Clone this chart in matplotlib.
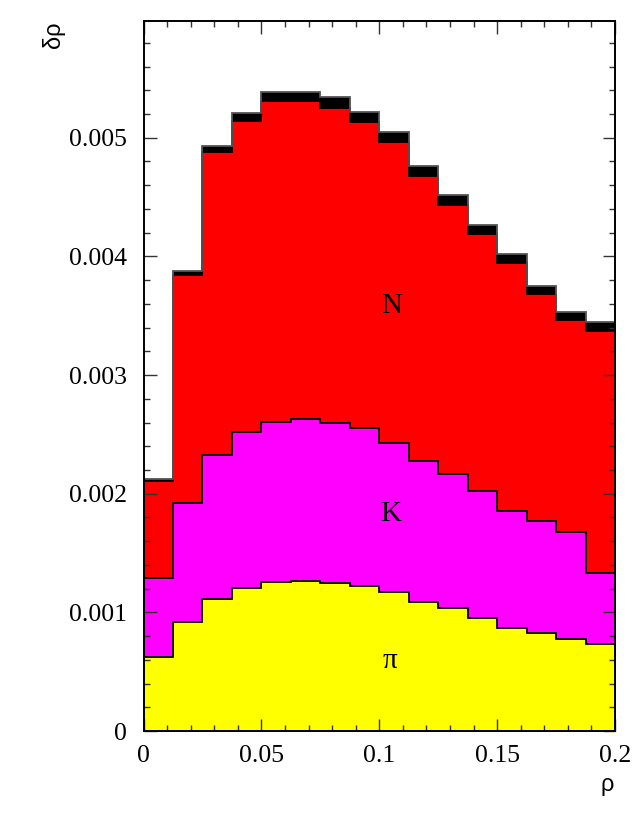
import numpy as np
import matplotlib
matplotlib.use("Agg")
import matplotlib.pyplot as plt

# bin edges (rho)
edges = np.linspace(0.0, 0.2, 17)

# contributions per bin (units of 1e-3)
pi_vals = [0.626, 0.916, 1.110, 1.205, 1.253, 1.261, 1.250, 1.222,
           1.171, 1.090, 1.037, 0.955, 0.868, 0.829, 0.778, 0.730]
K_vals = [0.661, 1.008, 1.213, 1.312, 1.348, 1.371, 1.348, 1.329,
          1.256, 1.188, 1.131, 1.065, 0.983, 0.943, 0.897, 0.604]
N_vals = [0.822, 1.919, 2.554, 2.624, 2.708, 2.675, 2.655, 2.579,
          2.537, 2.402, 2.262, 2.166, 2.093, 1.911, 1.786, 2.040]
other_vals = [0.017, 0.036, 0.056, 0.067, 0.076, 0.078, 0.090, 0.087,
              0.087, 0.084, 0.084, 0.081, 0.079, 0.067, 0.067, 0.075]

layer_names = ["π", "K", "N", ""]
layer_colors = ["#ffff00", "#ff00ff", "#ff0000", "#000000"]

comps = np.array([pi_vals, K_vals, N_vals, other_vals]) * 1e-3
tops = np.cumsum(comps, axis=0)

fig = plt.figure(figsize=(6.33, 8.19), dpi=100)
ax = fig.add_axes([0.2267, 0.1074, 0.9716 - 0.2267, 0.974 - 0.1074])

# draw from the top layer down so lower layers cover upper
for i in range(len(comps) - 1, -1, -1):
    ax.stairs(tops[i], edges, baseline=0, fill=True, color=layer_colors[i],
              linewidth=0)
for i in range(len(comps)):
    ec = "#555555" if i == len(comps) - 1 else "black"
    ax.stairs(tops[i], edges, baseline=None, fill=False, color=ec,
              linewidth=1.3)

ax.set_xlim(0, 0.2)
ax.set_ylim(0, 0.005981)

serif = ["Liberation Serif", "DejaVu Serif"]
ax.set_xticks([0, 0.05, 0.1, 0.15, 0.2])
ax.set_xticklabels(["0", "0.05", "0.1", "0.15", "0.2"], fontfamily=serif,
                   fontsize=18.5)
ax.set_yticks([0, 0.001, 0.002, 0.003, 0.004, 0.005])
ax.set_yticklabels(["0", "0.001", "0.002", "0.003", "0.004", "0.005"],
                   fontfamily=serif, fontsize=18.5)
ax.set_xticks(np.arange(0, 0.2001, 0.01), minor=True)
ax.set_yticks(np.arange(0, 0.00598, 0.0002), minor=True)
ax.tick_params(which="both", direction="in", top=True, right=True,
               color="#333333", width=1.0)
ax.tick_params(which="major", length=9)
ax.tick_params(which="minor", length=4.5)
ax.tick_params(axis="x", which="major", pad=10)
ax.tick_params(axis="y", which="major", pad=12)
for s in ax.spines.values():
    s.set_linewidth(1.4)
    s.set_color("black")

# layer labels
label_pos = {"N": (0.1054, 0.00358), "K": (0.1050, 0.001829), "π": (0.1046, 0.00059)}
for name in layer_names:
    if name:
        x, y = label_pos[name]
        ax.text(x, y, name, ha="center", va="center", fontsize=21,
                fontfamily=serif)

sans = ["Liberation Sans", "DejaVu Sans"]
fig.text(54 / 633, 1 - 35 / 819, "δρ", rotation=90, ha="center", va="center",
         fontsize=17, fontfamily=sans)
fig.text(614 / 633, 1 - 785 / 819, "ρ", ha="right", va="center",
         fontsize=17, fontfamily=sans)

fig.savefig("out.png", dpi=100)
